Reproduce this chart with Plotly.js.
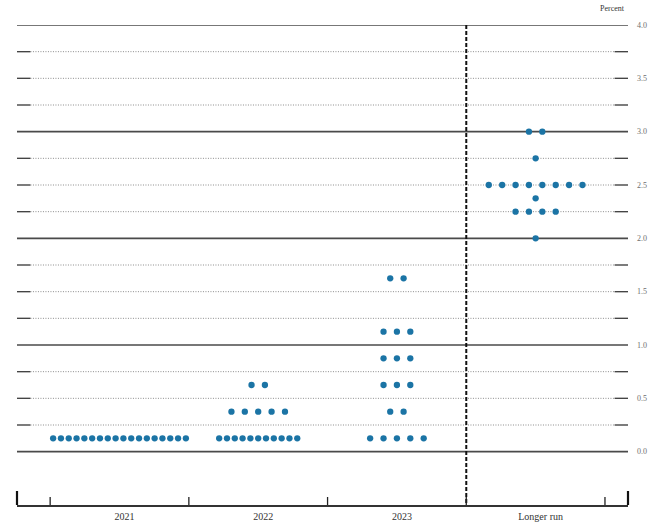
<!DOCTYPE html>
<html>
<head>
<meta charset="utf-8">
<script src="https://cdn.plot.ly/plotly-3.0.1.min.js"></script>
<style>html,body{margin:0;padding:0;background:#fff;}#chart{width:658px;height:523px;}</style>
</head>
<body>
<div id="chart"></div>
<script>
// ---- Data (midpoints of target ranges, number of participants) ----
const categories = ['2021', '2022', '2023', 'Longer run'];
const rates2021 = [0.125];
const counts2021 = [18];
const rates2022 = [0.125, 0.375, 0.625];
const counts2022 = [11, 5, 2];
const rates2023 = [0.125, 0.375, 0.625, 0.875, 1.125, 1.625];
const counts2023 = [5, 2, 3, 3, 3, 2];
const ratesLR = [2.0, 2.25, 2.375, 2.5, 2.75, 3.0];
const countsLR = [1, 4, 1, 8, 1, 2];
const yTickVals = [0, 0.5, 1, 1.5, 2, 2.5, 3, 3.5, 4];
const yTickLabels = ['0.0', '0.5', '1.0', '1.5', '2.0', '2.5', '3.0', '3.5', '4.0'];
const gridVals = [0, 0.25, 0.5, 0.75, 1, 1.25, 1.5, 1.75, 2, 2.25, 2.5, 2.75, 3, 3.25, 3.5, 3.75, 4];

const groups = [
  {rates: rates2021, counts: counts2021},
  {rates: rates2022, counts: counts2022},
  {rates: rates2023, counts: counts2023},
  {rates: ratesLR, counts: countsLR}
];

// spread dots horizontally around each category centre
const xs = [], ys = [];
groups.forEach((g, ci) => {
  g.rates.forEach((r, ri) => {
    const n = g.counts[ri];
    const sp = n > 8 ? 0.0563 : 0.0965;
    for (let j = 0; j < n; j++) {
      xs.push(ci + (j - (n - 1) / 2) * sp);
      ys.push(r);
    }
  });
});

const dotColor = '#1b74a5';
const trace = {
  x: xs, y: ys, type: 'scatter', mode: 'markers',
  marker: {size: 6.3, color: dotColor, line: {width: 0}},
  hoverinfo: 'y', showlegend: false, cliponaxis: false
};

const shapes = [];
const endSeg = 0.022;
gridVals.forEach(v => {
  const isInt = Math.abs(v - Math.round(v)) < 1e-9;
  if (isInt) {
    shapes.push({type: 'line', xref: 'paper', yref: 'y', x0: 0, x1: 1, y0: v, y1: v,
      line: {color: '#4a4a4a', width: 1.6}, layer: 'below'});
  } else {
    shapes.push({type: 'line', xref: 'paper', yref: 'y', x0: endSeg, x1: 1 - endSeg, y0: v, y1: v,
      line: {color: '#8c8c8c', width: 1, dash: '1px,1.5px'}, layer: 'below'});
    shapes.push({type: 'line', xref: 'paper', yref: 'y', x0: 0, x1: endSeg, y0: v, y1: v,
      line: {color: '#444', width: 1.4}, layer: 'below'});
    shapes.push({type: 'line', xref: 'paper', yref: 'y', x0: 1 - endSeg, x1: 1, y0: v, y1: v,
      line: {color: '#444', width: 1.4}, layer: 'below'});
  }
});
// dashed separator before "Longer run"
shapes.push({type: 'line', xref: 'x', yref: 'y', x0: categories.length - 1.5, x1: categories.length - 1.5,
  y0: 4, y1: -0.5, line: {color: '#111', width: 2, dash: '4px,2px'}});
// category boundary ticks
for (let i = 0; i < categories.length + 1; i++) {
  const xb = i - 0.5;
  shapes.push({type: 'line', xref: 'x', yref: 'paper', x0: xb, x1: xb, y0: 0, y1: 8 / 480,
    line: {color: '#222', width: 1.3}});
}
// end ticks
[0, 1].forEach(px => {
  shapes.push({type: 'line', xref: 'paper', yref: 'paper', x0: px, x1: px, y0: 0, y1: 14 / 480,
    line: {color: '#111', width: 2.2}});
});

const layout = {
  width: 658, height: 523,
  margin: {l: 17, r: 30, t: 25, b: 18},
  paper_bgcolor: '#fff', plot_bgcolor: '#fff',
  font: {family: 'Liberation Serif, serif', color: '#333'},
  xaxis: {
    range: [-0.739, 3.666], tickvals: categories.map((c, i) => i), ticktext: categories,
    showgrid: false, zeroline: false, showline: true, linecolor: '#333', linewidth: 1.5,
    ticks: '', tickfont: {size: 10, color: '#333', family: 'Liberation Serif, serif'},
    ticklabelshift: 5, ticklabelstandoff: 1, fixedrange: true
  },
  yaxis: {
    range: [-0.5, 4.0], side: 'right', tickvals: yTickVals, ticktext: yTickLabels,
    color: '#6e6e6e',
    showgrid: false, zeroline: false, showline: false, ticks: '',
    tickfont: {size: 8, color: '#6e6e6e', family: 'Liberation Serif, serif'},
    ticklabelstandoff: 8, fixedrange: true
  },
  shapes: shapes,
  annotations: [{
    text: 'Percent', xref: 'paper', yref: 'paper', x: 0.975, y: 1, yshift: 17,
    showarrow: false, xanchor: 'center', yanchor: 'middle',
    font: {size: 8, color: '#333', family: 'Liberation Serif, serif'}
  }]
};

Plotly.newPlot('chart', [trace], layout, {displayModeBar: false, staticPlot: true});
</script>
</body>
</html>
